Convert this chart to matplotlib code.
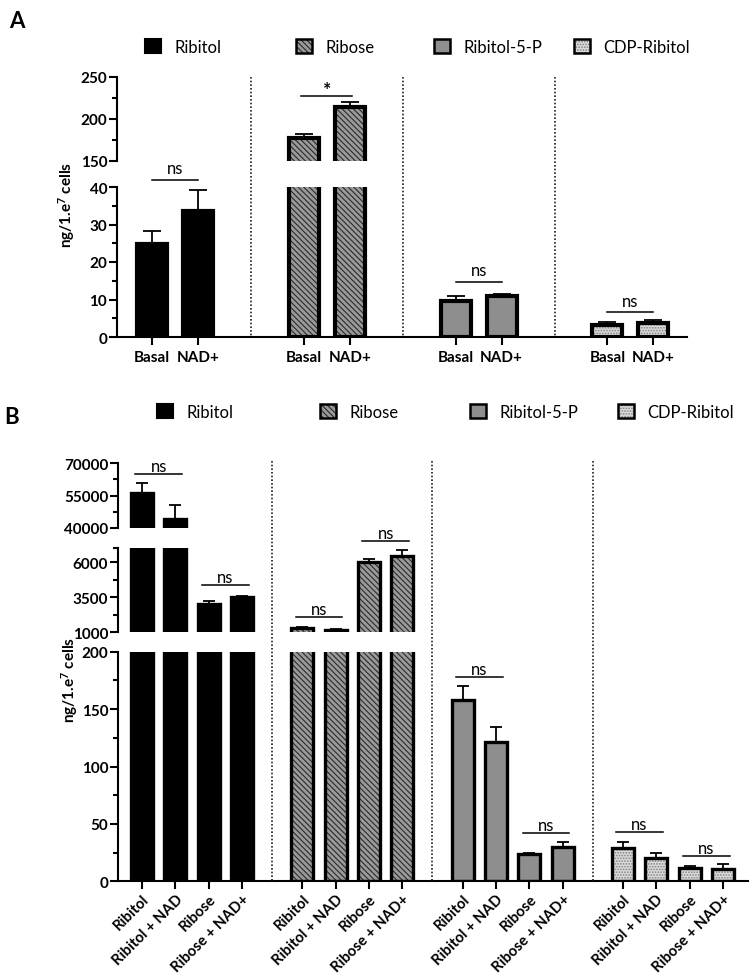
import numpy as np
import matplotlib
matplotlib.use("Agg")
import matplotlib.pyplot as plt
from matplotlib.patches import Patch
from matplotlib.lines import Line2D
import matplotlib.transforms as mtransforms

plt.rcParams['font.family'] = ['Lato', 'DejaVu Sans']
plt.rcParams['mathtext.default'] = 'regular'
plt.rcParams['hatch.linewidth'] = 0.8

W, H = 750, 978

# ---- data: panel A ----
labels_a = ["Basal", "NAD+"]
a_ribitol = [24.7, 33.6]
a_ribitol_err = [3.6, 5.6]
a_ribose = [177.4, 214.6]
a_ribose_err = [4.6, 6.0]
a_r5p = [9.5, 10.85]
a_r5p_err = [1.5, 0.65]
a_cdp = [3.3, 3.65]
a_cdp_err = [0.6, 0.85]

# ---- data: panel B ----
labels_b = ["Ribitol", "Ribitol + NAD", "Ribose", "Ribose + NAD+"]
b_ribitol = [56000, 44200, 3020, 3540]
b_ribitol_err = [4800, 6600, 190, 70]
b_ribose = [1290, 1160, 6000, 6470]
b_ribose_err = [70, 50, 240, 430]
b_r5p = [158, 121, 23.8, 30.2]
b_r5p_err = [12, 13, 1.2, 4.3]
b_cdp = [29.3, 20, 11.9, 11]
b_cdp_err = [4.7, 4.4, 1.7, 4.0]

series = ["Ribitol", "Ribose", "Ribitol-5-P", "CDP-Ribitol"]

# significance: (first bar, second bar, text, height, segment)
sig_a = [(0, 1, "ns", 41.9, 0), (2, 3, "*", 227, 1), (4, 5, "ns", 14.7, 0), (6, 7, "ns", 6.6, 0)]
sig_b = [(0, 1, "ns", 64900, 2), (2, 3, "ns", 4400, 1), (4, 5, "ns", 2070, 1), (6, 7, "ns", 7500, 1),
         (8, 9, "ns", 177.7, 0), (10, 11, "ns", 41.8, 0), (12, 13, "ns", 42.7, 0), (14, 15, "ns", 21.8, 0)]

RIBOSE_FILL, RIBOSE_HATCH = '#9a9a9a', '#2a2a2a'
CDP_FILL, CDP_HATCH = '#dadada', '#808080'

fig = plt.figure(figsize=(W / 100, H / 100), dpi=100)


def px_axes(x0, x1, ytop, ybot):
    return fig.add_axes([x0 / W, 1 - ybot / H, (x1 - x0) / W, (ybot - ytop) / H])


def style_axis(ax, bottom, lw=1.5):
    for s in ['top', 'right']:
        ax.spines[s].set_visible(False)
    ax.spines['left'].set_linewidth(lw)
    ax.patch.set_alpha(0)
    ax.tick_params(axis='y', which='major', length=6, width=lw, labelsize=11, pad=1)
    ax.tick_params(axis='y', which='minor', length=3.5, width=lw)
    for t in ax.get_yticklabels():
        t.set_fontweight('bold')
    if bottom:
        ax.spines['bottom'].set_linewidth(lw)
        ax.tick_params(axis='x', length=6, width=lw, labelsize=11)
    else:
        ax.spines['bottom'].set_visible(False)
        ax.tick_params(axis='x', bottom=False, labelbottom=False)


def draw_bars(ax, pos, vals, errs, kind, width, lw, capsize):
    if kind == 0:
        ax.bar(pos, vals, width, color='black', edgecolor='black', lw=lw)
    elif kind == 1:
        ax.bar(pos, vals, width, facecolor=RIBOSE_FILL, edgecolor=RIBOSE_HATCH, hatch='\\\\\\\\\\\\', lw=0)
        ax.bar(pos, vals, width, fill=False, edgecolor='black', lw=lw)
    elif kind == 2:
        ax.bar(pos, vals, width, facecolor='#8e8e8e', edgecolor='black', lw=lw)
    else:
        ax.bar(pos, vals, width, facecolor=CDP_FILL, edgecolor=CDP_HATCH, hatch='......', lw=0)
        ax.bar(pos, vals, width, fill=False, edgecolor='black', lw=lw)
    ax.errorbar(pos, vals, yerr=[np.zeros(len(vals)), errs], fmt='none', ecolor='black',
                elinewidth=1.3, capsize=capsize, capthick=1.3)


def legend_handle(kind):
    if kind == 0:
        return Patch(facecolor='black', edgecolor='black', lw=1.5)
    if kind == 1:
        return (Patch(facecolor=RIBOSE_FILL, edgecolor=RIBOSE_HATCH, hatch='\\\\\\\\\\\\', lw=0),
                Patch(fill=False, edgecolor='black', lw=1.8))
    if kind == 2:
        return Patch(facecolor='#8e8e8e', edgecolor='black', lw=1.8)
    return (Patch(facecolor=CDP_FILL, edgecolor=CDP_HATCH, hatch='......', lw=0),
            Patch(fill=False, edgecolor='black', lw=1.8))


def add_legends(xs, y):
    for k, (x, name) in enumerate(zip(xs, series)):
        fig.legend(handles=[legend_handle(k)], labels=[name], loc='center left',
                   bbox_to_anchor=(x / W, 1 - y / H), frameon=False, fontsize=12,
                   handlelength=0.95, handleheight=0.95, handletextpad=0.8,
                   borderpad=0, borderaxespad=0)


def add_sig(ax, x1, x2, text, y, ext, off, fs=12, weight='normal'):
    ax.plot([x1 - ext, x2 + ext], [y, y], color='black', lw=1.1, clip_on=False)
    ax.annotate(text, ((x1 + x2) / 2, y), xytext=(0, off), textcoords='offset points',
                ha='center', va='bottom', fontsize=fs, fontweight=weight, annotation_clip=False)


def dividers(ax, xs, ytop_px, ybot_px):
    trans = mtransforms.blended_transform_factory(ax.transData, fig.transFigure)
    for x in xs:
        fig.add_artist(Line2D([x, x], [1 - ytop_px / H, 1 - ybot_px / H], transform=trans,
                              color='#222222', lw=1.2, ls=(0, (1, 1.2))))


# ================= Panel A =================
pos_a = np.array([0, 1, 3.3, 4.3, 6.6, 7.6, 9.9, 10.9])
vals_a = [a_ribitol, a_ribose, a_r5p, a_cdp]
errs_a = [a_ribitol_err, a_ribose_err, a_r5p_err, a_cdp_err]

axA0 = px_axes(117, 687, 188, 338)
axA1 = px_axes(117, 687, 78, 162)
for ax, lo, hi in [(axA0, 0, 40), (axA1, 150, 250)]:
    for g in range(4):
        draw_bars(ax, pos_a[2 * g:2 * g + 2], vals_a[g], errs_a[g], g, 0.65, 3, 6.5)
    ax.set_ylim(lo, hi)
    ax.set_xlim(-0.76, 11.63)
axA0.set_yticks([0, 10, 20, 30, 40])
axA0.set_yticks([5, 15, 25, 35], minor=True)
axA1.set_yticks([150, 200, 250])
axA1.set_yticks([175, 225], minor=True)
axA0.set_xticks(pos_a)
axA0.set_xticklabels(labels_a * 4, fontweight='bold')
style_axis(axA0, True)
style_axis(axA1, False)
dividers(axA0, [2.15, 5.45, 8.75], 78, 338)
segA = [axA0, axA1]
for i, j, t, y, s in sig_a:
    if t == 'ns':
        add_sig(segA[s], pos_a[i], pos_a[j], t, y, 0.0, 2.5)
    else:
        add_sig(segA[s], pos_a[i], pos_a[j], t, y, 0.05, -1, fs=14, weight='bold')
fig.text(67 / W, 1 - 205 / H, "ng/1.e$^{7}$ cells", rotation=90, ha='center', va='center',
         fontsize=11, fontweight='bold')
add_legends([145, 296, 434, 574], 48)
fig.text(17 / W, 1 - 22 / H, "A", fontsize=16, fontweight='bold', ha='center', va='center')

# ================= Panel B =================
pos_b = np.concatenate([np.arange(4) + 4.8 * g for g in range(4)])
vals_b = [b_ribitol, b_ribose, b_r5p, b_cdp]
errs_b = [b_ribitol_err, b_ribose_err, b_r5p_err, b_cdp_err]

axB0 = px_axes(118, 748, 652.7, 882.3)
axB1 = px_axes(118, 748, 549.3, 633.3)
axB2 = px_axes(118, 748, 464, 529)
for ax, lo, hi in [(axB0, 0, 200), (axB1, 1000, 7000), (axB2, 40000, 70000)]:
    for g in range(4):
        draw_bars(ax, pos_b[4 * g:4 * g + 4], vals_b[g], errs_b[g], g, 0.66, 2.4, 4.3)
    ax.set_ylim(lo, hi)
    ax.set_xlim(-0.72, 18.15)
axB0.set_yticks([0, 50, 100, 150, 200])
axB0.set_yticks(np.arange(25, 200, 50), minor=True)
axB1.set_yticks([1000, 3500, 6000])
axB1.set_yticks([2250, 4750, 7000], minor=True)
axB2.set_yticks([40000, 55000, 70000])
axB2.set_yticks([47500, 62500], minor=True)
axB0.set_xticks(pos_b)
axB0.set_xticklabels(labels_b * 4, rotation=45, ha='right', rotation_mode='anchor', fontweight='bold')
style_axis(axB0, True)
style_axis(axB1, False)
style_axis(axB2, False)
axB0.tick_params(axis='x', pad=1.5, labelsize=10.7)
dividers(axB0, [3.9, 8.7, 13.5], 462, 882.3)
segB = [axB0, axB1, axB2]
for i, j, t, y, s in sig_b:
    add_sig(segB[s], pos_b[i], pos_b[j], t, y, 0.2, 0)
fig.text(70 / W, 1 - 680 / H, "ng/1.e$^{7}$ cells", rotation=90, ha='center', va='center',
         fontsize=11, fontweight='bold')
add_legends([157, 320, 470, 618], 413)
fig.text(12 / W, 1 - 418 / H, "B", fontsize=16, fontweight='bold', ha='center', va='center')

fig.savefig("out.png", dpi=100)
